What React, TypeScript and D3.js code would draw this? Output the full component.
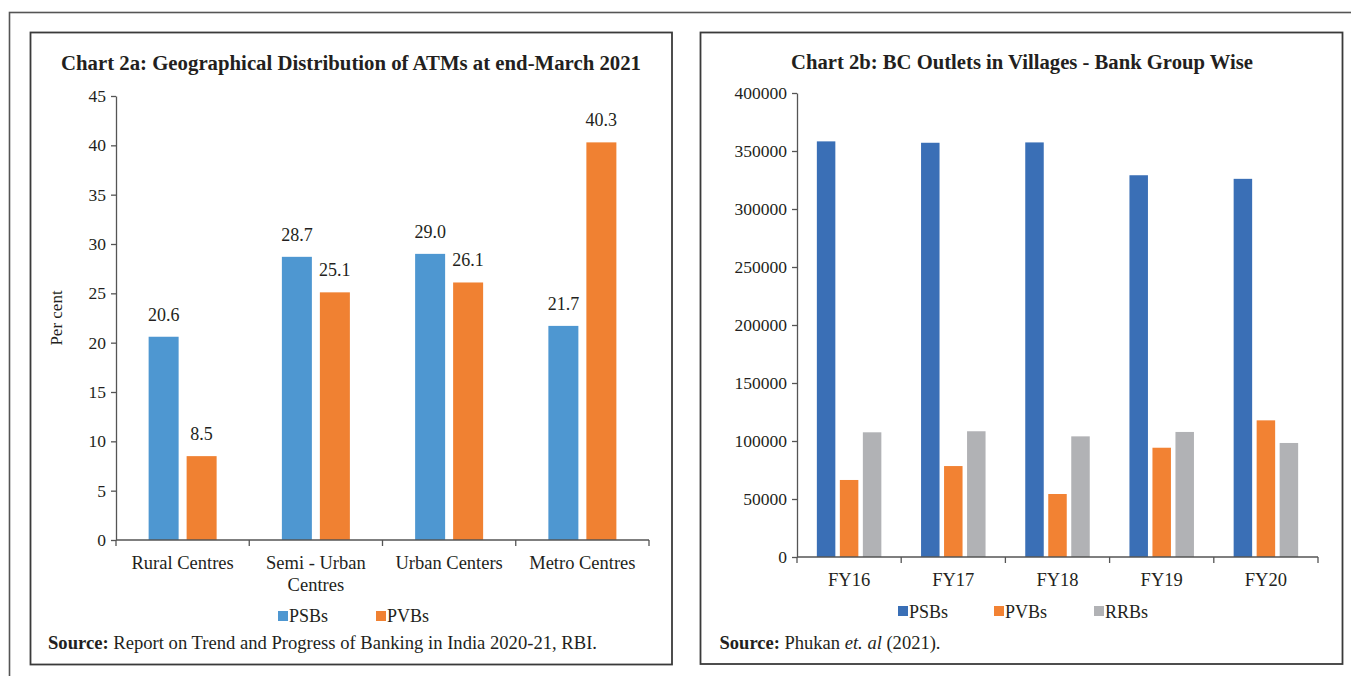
import { useEffect, useRef } from 'react'
import * as d3 from 'd3'

// Chart 2a data
const atmCategories: string[] = ['Rural Centres', 'Semi - Urban\nCentres', 'Urban Centers', 'Metro Centres']
const atmSeries: string[] = ['PSBs', 'PVBs']
const atmPSBs: number[] = [20.6, 28.7, 29.0, 21.7]
const atmPVBs: number[] = [8.5, 25.1, 26.1, 40.3]
const atmTicks: number[] = [0, 5, 10, 15, 20, 25, 30, 35, 40, 45]

// Chart 2b data
const bcYears: string[] = ['FY16', 'FY17', 'FY18', 'FY19', 'FY20']
const bcSeries: string[] = ['PSBs', 'PVBs', 'RRBs']
const bcPSBs: number[] = [358300, 357100, 357400, 329100, 326000]
const bcPVBs: number[] = [66400, 78400, 54300, 94200, 117800]
const bcRRBs: number[] = [107500, 108400, 104000, 107800, 98300]
const bcTicks: number[] = [0, 50000, 100000, 150000, 200000, 250000, 300000, 350000, 400000]

const FONT = '"Liberation Serif", "Times New Roman", serif'
const INK = '#231f20'
const AXIS = '#555'

export default function App() {
  const ref = useRef<SVGSVGElement>(null)

  useEffect(() => {
    const svg = d3.select(ref.current)
    svg.selectAll('*').remove()
    svg.style('font-family', FONT)

    // frames
    svg.append('rect').attr('x', 9.5).attr('y', 12.5).attr('width', 1360).attr('height', 700)
      .attr('fill', 'none').attr('stroke', '#555').attr('stroke-width', 1.6)
    svg.append('rect').attr('x', 30.5).attr('y', 32.5).attr('width', 641.5).attr('height', 632)
      .attr('fill', 'none').attr('stroke', '#3a3a3a').attr('stroke-width', 1.8)
    svg.append('rect').attr('x', 700.5).attr('y', 32.5).attr('width', 642).attr('height', 631.5)
      .attr('fill', 'none').attr('stroke', '#3a3a3a').attr('stroke-width', 1.8)

    // ---------- Chart 2a ----------
    const a = svg.append('g')
    const ax0 = d3.scaleBand().domain(atmCategories).range([116, 649])
    const ax1 = d3.scaleBand().domain(atmSeries).range([0, 68]).paddingInner(0.2105)
    const ay = d3.scaleLinear().domain([0, 45]).range([540, 96])
    const aColors = d3.scaleOrdinal<string>().domain(atmSeries).range(['#4e97d1', '#f08132'])
    const atmRows = atmCategories.map((c, i) => ({ cat: c, values: [atmPSBs[i], atmPVBs[i]] }))

    a.append('text').attr('x', 351).attr('y', 70).attr('text-anchor', 'middle')
      .attr('font-size', 20).attr('font-weight', 'bold').attr('fill', INK)
      .attr('textLength', 580).attr('lengthAdjust', 'spacingAndGlyphs')
      .text('Chart 2a: Geographical Distribution of ATMs at end-March 2021')

    const aGroups = a.selectAll('g.grp').data(atmRows).enter().append('g')
      .attr('transform', d => `translate(${(ax0(d.cat) as number) + ax0.bandwidth() / 2 - 34},0)`)
    aGroups.selectAll('rect').data(d => d.values.map((v, j) => ({ s: atmSeries[j], v })))
      .enter().append('rect')
      .attr('x', d => ax1(d.s) as number)
      .attr('y', d => ay(d.v))
      .attr('width', ax1.bandwidth())
      .attr('height', d => ay(0) - ay(d.v))
      .attr('fill', d => aColors(d.s))
    aGroups.selectAll('text').data(d => d.values.map((v, j) => ({ s: atmSeries[j], v })))
      .enter().append('text')
      .attr('x', d => (ax1(d.s) as number) + ax1.bandwidth() / 2)
      .attr('y', d => ay(d.v) - 16)
      .attr('text-anchor', 'middle').attr('font-size', 18).attr('fill', INK)
      .text(d => d.v.toFixed(1))

    const aYAxis = a.append('g').attr('transform', 'translate(116,0)')
      .call(d3.axisLeft(ay).tickValues(atmTicks).tickSize(5).tickSizeOuter(0).tickPadding(5))
    aYAxis.selectAll('text').attr('font-size', 17.5).attr('fill', INK).attr('font-family', FONT)
    aYAxis.selectAll('line, path').attr('stroke', AXIS).attr('stroke-width', 1.3)

    a.append('line').attr('x1', 116).attr('x2', 649).attr('y1', ay(0)).attr('y2', ay(0))
      .attr('stroke', AXIS).attr('stroke-width', 1.3)
    const aBounds = atmCategories.map(c => ax0(c) as number).concat([649])
    a.selectAll('line.xt').data(aBounds).enter().append('line')
      .attr('x1', d => d).attr('x2', d => d).attr('y1', ay(0)).attr('y2', ay(0) + 6)
      .attr('stroke', AXIS).attr('stroke-width', 1.3)
    atmCategories.forEach(c => {
      c.split('\n').forEach((line, k) => {
        a.append('text').attr('x', (ax0(c) as number) + ax0.bandwidth() / 2).attr('y', 569 + k * 22)
          .attr('text-anchor', 'middle').attr('font-size', 18.5).attr('fill', INK).text(line)
      })
    })

    a.append('text').attr('transform', 'translate(62,318) rotate(-90)').attr('text-anchor', 'middle')
      .attr('font-size', 17).attr('fill', INK).text('Per cent')

    const aLegX = [278, 376]
    atmSeries.forEach((s, i) => {
      a.append('rect').attr('x', aLegX[i]).attr('y', 611).attr('width', 10).attr('height', 10).attr('fill', aColors(s))
      a.append('text').attr('x', aLegX[i] + 11).attr('y', 622).attr('font-size', 18).attr('fill', INK).text(s)
    })

    const aSrc = a.append('text').attr('x', 48).attr('y', 649).attr('font-size', 18).attr('fill', INK)
      .attr('textLength', 549).attr('lengthAdjust', 'spacingAndGlyphs')
    aSrc.append('tspan').attr('font-weight', 'bold').text('Source:')
    aSrc.append('tspan').text(' Report on Trend and Progress of Banking in India 2020-21, RBI.')

    // ---------- Chart 2b ----------
    const b = svg.append('g')
    const bx0 = d3.scaleBand().domain(bcYears).range([797, 1318])
    const bx1 = d3.scaleBand().domain(bcSeries).range([0, 64.5]).paddingInner(0.196)
    const by = d3.scaleLinear().domain([0, 400000]).range([557, 93])
    const bColors = d3.scaleOrdinal<string>().domain(bcSeries).range(['#3a6fb6', '#f28233', '#b1b2b5'])
    const bcRows = bcYears.map((y, i) => ({ cat: y, values: [bcPSBs[i], bcPVBs[i], bcRRBs[i]] }))

    b.append('text').attr('x', 1022).attr('y', 69).attr('text-anchor', 'middle')
      .attr('font-size', 20).attr('font-weight', 'bold').attr('fill', INK)
      .attr('textLength', 462).attr('lengthAdjust', 'spacingAndGlyphs')
      .text('Chart 2b: BC Outlets in Villages - Bank Group Wise')

    const bGroups = b.selectAll('g.grp').data(bcRows).enter().append('g')
      .attr('transform', d => `translate(${(bx0(d.cat) as number) + bx0.bandwidth() / 2 - 32.25},0)`)
    bGroups.selectAll('rect').data(d => d.values.map((v, j) => ({ s: bcSeries[j], v })))
      .enter().append('rect')
      .attr('x', d => bx1(d.s) as number)
      .attr('y', d => by(d.v))
      .attr('width', bx1.bandwidth())
      .attr('height', d => by(0) - by(d.v))
      .attr('fill', d => bColors(d.s))

    const bYAxis = b.append('g').attr('transform', 'translate(797,0)')
      .call(d3.axisLeft(by).tickValues(bcTicks).tickFormat(d3.format('d')).tickSize(5).tickSizeOuter(0).tickPadding(5))
    bYAxis.selectAll('text').attr('font-size', 17.5).attr('fill', INK).attr('font-family', FONT)
    bYAxis.selectAll('line, path').attr('stroke', AXIS).attr('stroke-width', 1.3)

    b.append('line').attr('x1', 797).attr('x2', 1318).attr('y1', by(0)).attr('y2', by(0))
      .attr('stroke', AXIS).attr('stroke-width', 1.3)
    const bBounds = bcYears.map(c => bx0(c) as number).concat([1318])
    b.selectAll('line.xt').data(bBounds).enter().append('line')
      .attr('x1', d => d).attr('x2', d => d).attr('y1', by(0)).attr('y2', by(0) + 6)
      .attr('stroke', AXIS).attr('stroke-width', 1.3)
    bcYears.forEach(c => {
      b.append('text').attr('x', (bx0(c) as number) + bx0.bandwidth() / 2).attr('y', 585.5)
        .attr('text-anchor', 'middle').attr('font-size', 18.5).attr('fill', INK).text(c)
    })

    const bLegX = [898, 994, 1094]
    bcSeries.forEach((s, i) => {
      b.append('rect').attr('x', bLegX[i]).attr('y', 606).attr('width', 10).attr('height', 10).attr('fill', bColors(s))
      b.append('text').attr('x', bLegX[i] + 11).attr('y', 617.5).attr('font-size', 18).attr('fill', INK).text(s)
    })

    const bSrc = b.append('text').attr('x', 719.5).attr('y', 649).attr('font-size', 18).attr('fill', INK)
      .attr('textLength', 221).attr('lengthAdjust', 'spacingAndGlyphs')
    bSrc.append('tspan').attr('font-weight', 'bold').text('Source:')
    bSrc.append('tspan').text(' Phukan ')
    bSrc.append('tspan').attr('font-style', 'italic').text('et. al')
    bSrc.append('tspan').text(' (2021).')
  }, [])

  return (
    <svg ref={ref} width={1351} height={676}
      style={{ position: 'absolute', left: 0, top: 0, background: '#fff' }} />
  )
}
